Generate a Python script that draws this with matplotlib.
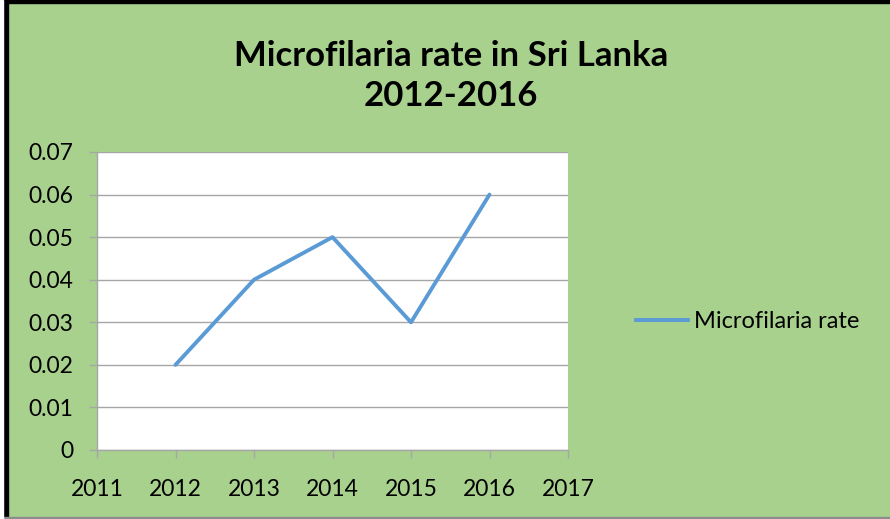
import matplotlib.pyplot as plt
from matplotlib.patches import Rectangle
from matplotlib.lines import Line2D

# data
years = [2012, 2013, 2014, 2015, 2016]
mf_rate = [0.02, 0.04, 0.05, 0.03, 0.06]
x_ticks = [2011, 2012, 2013, 2014, 2015, 2016, 2017]
y_ticks = [0, 0.01, 0.02, 0.03, 0.04, 0.05, 0.06, 0.07]
y_labels = ['0', '0.01', '0.02', '0.03', '0.04', '0.05', '0.06', '0.07']

bg = '#A9D18E'
grid_col = '#A6A6A6'
line_col = '#5B9BD5'

plt.rcParams['font.family'] = ['Lato', 'DejaVu Sans']

fig = plt.figure(figsize=(8.9, 5.19), dpi=100, facecolor=bg)
ax = fig.add_axes([97/890, 69/519, 471/890, 298/519])
ax.set_facecolor('white')

ax.plot(years, mf_rate, color=line_col, lw=2.8, solid_capstyle='round',
		label='Microfilaria rate', zorder=3)

ax.set_xlim(2011, 2017)
ax.set_ylim(0, 0.07)
ax.set_xticks(x_ticks)
ax.set_xticklabels([str(v) for v in x_ticks])
ax.set_yticks(y_ticks)
ax.set_yticklabels(y_labels)
ax.grid(axis='y', color=grid_col, lw=1)
ax.set_axisbelow(True)

for s in ['top', 'right']:
	ax.spines[s].set_visible(False)
for s in ['left', 'bottom']:
	ax.spines[s].set_color(grid_col)
	ax.spines[s].set_linewidth(1)
ax.tick_params(axis='both', colors=grid_col, length=6, width=1,
			   labelcolor='black', labelsize=16.5)
ax.tick_params(axis='x', pad=15)
ax.tick_params(axis='y', pad=11)

fig.text(451/890, 1 - 76/519, 'Microfilaria rate in Sri Lanka\n2012-2016',
		 ha='center', va='center', fontsize=25, fontweight='bold',
		 linespacing=1.3)

leg = fig.legend(handles=[Line2D([], [], color=line_col, lw=2.8)],
				 labels=['Microfilaria rate'], loc='center left',
				 bbox_to_anchor=(636/890, 197/519), frameon=False,
				 fontsize=17, handlelength=2.2, handletextpad=0.25,
				 borderpad=0, borderaxespad=0)

# chart border
fig.patches.append(Rectangle((3/890, 0), 5/890, 1, transform=fig.transFigure,
							 color='black', zorder=0))
fig.patches.append(Rectangle((3/890, 516/519), 1, 3/519, transform=fig.transFigure,
							 color='black', zorder=0))
fig.patches.append(Rectangle((0, 0), 1, 2/519, transform=fig.transFigure,
							 color='#8C8C8C', zorder=0))
fig.patches.append(Rectangle((0, 0), 3/890, 1, transform=fig.transFigure,
							 color='white', zorder=0))

fig.savefig('out.png', dpi=100, facecolor=bg)
